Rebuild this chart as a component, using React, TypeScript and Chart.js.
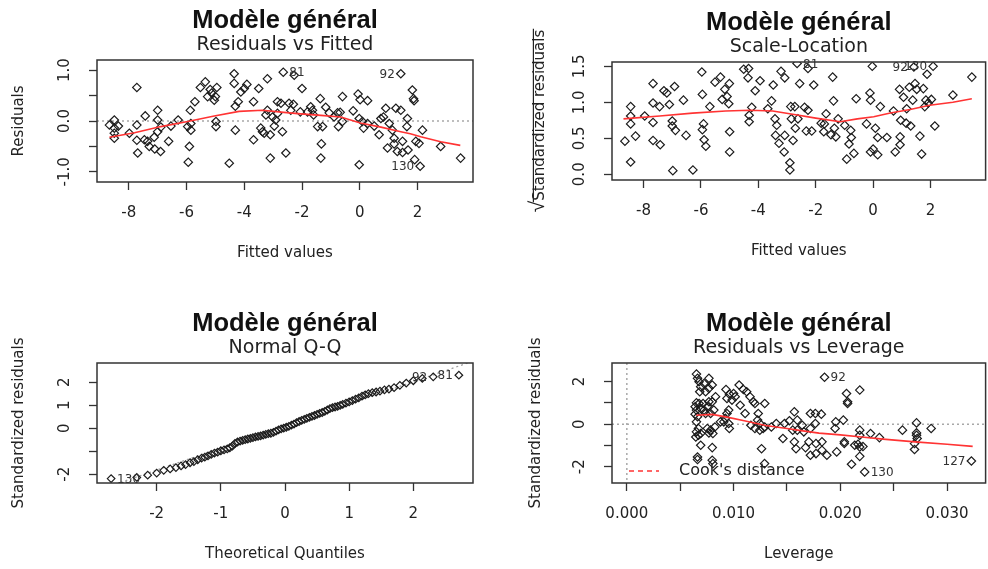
import React, { useEffect, useRef } from 'react';
import { Chart, registerables } from 'chart.js';

Chart.register(...registerables);

type Pt = [number, number];
type Lab = [number, number, string, 'left' | 'right'];

const FONT = '"DejaVu Sans", sans-serif';
const TITLE_FONT = '"Liberation Sans", Arial, sans-serif';
const TEXT = '#222';
const MAIN_TITLE = 'Modèle général';

// ---------- Residuals vs Fitted ----------
const RVF_POINTS: Pt[] = [
  [-8.67,-0.08],[-8.5,0.02],[-8.5,-0.14],[-8.5,-0.34],[-8.36,-0.1],[-8.5,-0.24],[-7.98,-0.24],[-7.72,0.66],[-7.72,-0.08],[-7.72,-0.38],
  [-7.69,-0.63],[-7.43,0.1],[-7.46,-0.37],[-7.35,-0.4],[-7.29,-0.5],[-7.12,-0.32],[-7.1,-0.55],[-7.0,0.21],[-7.0,0.02],[-7.0,-0.21],
  [-6.9,-0.6],[-6.89,-0.12],[-6.62,-0.4],[-6.54,-0.1],[-6.29,0.02],[-5.96,-0.11],[-5.94,-0.81],[-5.9,-0.5],[-5.87,0.21],[-5.85,-0.18],
  [-5.85,-0.05],[-5.71,0.38],[-5.52,0.66],[-5.35,0.77],[-5.27,0.48],[-5.18,0.62],[-5.13,0.55],[-5.04,0.41],[-5.0,0.48],[-4.95,0.66],
  [-4.98,-0.01],[-4.98,-0.11],[-4.52,-0.83],[-4.35,0.93],[-4.35,0.74],[-4.31,0.29],[-4.31,-0.18],[-4.21,0.38],[-4.12,0.57],[-4.0,0.64],
  [-3.91,0.72],[-3.68,-0.37],[-3.68,0.38],[-3.5,0.64],[-3.43,-0.14],[-3.37,-0.21],[-3.31,-0.24],[-3.25,0.12],[-3.2,0.83],[-3.2,0.21],
  [-3.1,-0.27],[-3.1,-0.73],[-3.02,0.08],[-2.96,-0.1],[-2.91,0.02],[-2.85,0.15],[-2.85,0.38],[-2.73,0.35],[-2.68,-0.21],[-2.65,0.96],
  [-2.56,-0.63],[-2.45,0.35],[-2.39,0.21],[-2.27,0.9],[-2.3,0.33],[-2.06,0.18],[-2.0,0.64],[-1.81,0.18],[-1.7,0.28],[-1.64,0.21],
  [-1.6,0.12],[-1.46,-0.11],[-1.37,0.44],[-1.35,-0.73],[-1.33,-0.45],[-1.29,-0.11],[-1.18,0.27],[-1.06,0.16],[-0.89,0.08],[-0.77,0.16],
  [-0.74,-0.11],[-0.68,0.17],[-0.6,0.48],[-0.6,-0.01],[-0.23,0.2],[-0.06,0.53],[-0.02,-0.86],[-0.02,0.05],[0.01,0.42],[0.09,-0.01],
  [0.13,-0.14],[0.27,0.4],[0.27,-0.05],[0.5,-0.1],[0.67,-0.27],[0.73,0.05],[0.82,0.08],[0.9,0.25],[0.96,-0.53],[1.02,-0.05],
  [1.13,-0.18],[1.19,-0.34],[1.19,-0.45],[1.25,0.25],[1.3,-0.6],[1.42,0.21],[1.42,0.93],[1.48,-0.4],[1.48,-0.62],[1.65,0.05],
  [1.63,-0.11],[1.67,-0.57],[1.82,0.61],[1.86,0.44],[1.88,0.4],[1.9,-0.76],[1.94,-0.4],[2.05,-0.44],[2.09,-0.89],[2.17,-0.18],
  [2.8,-0.5],[3.49,-0.73],
];
const RVF_SMOOTH: Pt[] = [
  [-8.67,-0.32],[-7.8,-0.23],[-6.89,-0.11],[-5.96,-0.01],[-5.04,0.1],[-4.18,0.19],[-3.37,0.21],[-2.63,0.17],[-2.04,0.14],
  [-1.35,0.11],[-0.66,0.08],[0.02,-0.04],[0.73,-0.12],[1.42,-0.21],[1.75,-0.25],[2.11,-0.31],[2.8,-0.41],[3.48,-0.48],
];
const RVF_LABELS: Lab[] = [[-2.65, 0.96, '81', 'right'], [1.42, 0.93, '92', 'left'], [2.09, -0.89, '130', 'left']];
const RVF_X_TICKS = [-8, -6, -4, -2, 0, 2];
const RVF_X_TICK_LABELS = ['-8', '-6', '-4', '-2', '0', '2'];
const RVF_Y_TICKS = [-1, -0.5, 0, 0.5, 1];
const RVF_Y_TICK_LABELS = ['-1.0', '', '0.0', '', '1.0'];

// ---------- Scale-Location ----------
const SL_POINTS: Pt[] = [
  [-8.65,0.46],[-8.45,0.94],[-8.45,0.81],[-8.45,0.7],[-8.45,0.17],[-8.28,0.53],[-7.96,0.81],[-7.67,1.26],[-7.67,0.99],[-7.67,0.72],
  [-7.67,0.47],[-7.44,0.94],[-7.42,0.41],[-7.29,1.16],[-7.19,1.13],[-7.1,0.97],[-7.0,0.74],[-7.0,0.67],[-6.98,0.05],[-6.92,1.22],
  [-6.89,0.61],[-6.61,1.03],[-6.52,0.54],[-6.28,0.06],[-5.97,1.42],[-5.95,1.11],[-5.95,0.62],[-5.91,0.7],[-5.89,0.48],[-5.83,0.39],
  [-5.69,0.94],[-5.51,1.28],[-5.32,1.35],[-5.26,1.04],[-5.17,1.18],[-5.09,1.08],[-5.01,1.26],[-5.03,0.98],[-5.0,0.59],[-5.0,0.31],
  [-4.51,1.46],[-4.34,1.47],[-4.36,1.34],[-4.32,0.82],[-4.32,0.73],[-4.11,1.16],[-3.94,1.3],[-4.23,0.93],[-3.67,0.91],[-3.54,1.02],
  [-3.48,1.24],[-3.42,0.77],[-3.36,0.68],[-3.4,0.54],[-3.28,0.43],[-3.21,1.43],[-3.08,1.34],[-3.08,0.54],[-3.1,0.31],[-2.9,0.16],
  [-2.9,0.06],[-2.87,0.94],[-2.85,0.77],[-2.79,0.47],[-2.73,0.94],[-2.71,0.64],[-2.65,1.54],[-2.62,0.77],[-2.56,1.26],[-2.39,0.93],
  [-2.33,0.6],[-2.27,0.89],[-2.27,1.47],[-2.14,0.6],[-2.07,1.24],[-1.81,0.71],[-1.72,0.59],[-1.7,0.7],[-1.64,0.84],[-1.47,0.55],
  [-1.41,1.35],[-1.38,1.02],[-1.35,0.64],[-1.3,0.52],[-1.22,0.77],[-0.99,0.68],[-0.92,0.21],[-0.84,0.42],[-0.78,0.61],[-0.76,0.51],
  [-0.67,0.29],[-0.59,1.05],[-0.23,0.7],[-0.11,1.13],[-0.03,1.5],[-0.09,1.03],[-0.09,0.31],[0.0,0.35],[0.08,0.64],[0.16,0.27],
  [0.16,0.51],[0.25,0.94],[0.48,0.51],[0.71,0.88],[0.77,0.31],[0.92,1.18],[0.94,0.52],[0.94,0.41],[0.96,0.75],[1.06,1.07],
  [1.15,0.71],[1.17,0.91],[1.26,1.21],[1.31,0.67],[1.38,1.03],[1.42,1.49],[1.46,1.26],[1.52,1.18],[1.63,0.53],[1.69,0.28],
  [1.75,1.19],[1.8,0.94],[1.84,1.03],[1.88,1.39],[1.92,0.99],[2.09,1.5],[2.03,1.04],[2.15,0.67],[2.78,1.1],[3.44,1.35],
];
const SL_SMOOTH: Pt[] = [
  [-8.7,0.77],[-7.44,0.81],[-6.29,0.85],[-5.14,0.88],[-4.29,0.89],[-3.5,0.88],[-2.75,0.83],[-2.0,0.78],[-1.15,0.73],
  [-0.55,0.77],[0.02,0.8],[0.6,0.85],[1.29,0.9],[1.97,0.96],[2.78,1.0],[3.44,1.05],
];
const SL_LABELS: Lab[] = [[-2.65, 1.54, '81', 'right'], [1.42, 1.49, '92', 'left'], [2.09, 1.5, '130', 'left']];
const SL_X_TICKS = [-8, -6, -4, -2, 0, 2];
const SL_X_TICK_LABELS = ['-8', '-6', '-4', '-2', '0', '2'];
const SL_Y_TICKS = [0, 0.5, 1, 1.5];
const SL_Y_TICK_LABELS = ['0.0', '0.5', '1.0', '1.5'];

// ---------- Normal Q-Q ----------
const QQ_POINTS: Pt[] = [
  [-2.71,-2.19],[-2.31,-2.14],[-2.14,-2.04],[-2.0,-1.95],[-1.89,-1.83],[-1.79,-1.77],[-1.7,-1.71],[-1.62,-1.64],[-1.55,-1.58],[-1.48,-1.5],
  [-1.42,-1.45],[-1.36,-1.37],[-1.3,-1.3],[-1.25,-1.26],[-1.2,-1.2],[-1.15,-1.14],[-1.1,-1.08],[-1.05,-1.04],[-1.0,-0.98],[-0.95,-0.94],
  [-0.9,-0.9],[-0.86,-0.85],[-0.82,-0.78],[-0.78,-0.66],[-0.74,-0.6],[-0.7,-0.56],[-0.66,-0.53],[-0.62,-0.5],[-0.58,-0.47],[-0.54,-0.44],
  [-0.5,-0.41],[-0.46,-0.38],[-0.42,-0.36],[-0.38,-0.33],[-0.34,-0.3],[-0.3,-0.27],[-0.26,-0.24],[-0.22,-0.22],[-0.18,-0.18],[-0.14,-0.13],
  [-0.1,-0.07],[-0.06,-0.03],[-0.02,0.0],[0.02,0.04],[0.06,0.08],[0.1,0.13],[0.14,0.18],[0.18,0.24],[0.22,0.29],[0.26,0.34],
  [0.3,0.38],[0.34,0.43],[0.38,0.47],[0.42,0.51],[0.46,0.55],[0.5,0.6],[0.54,0.64],[0.58,0.68],[0.62,0.73],[0.66,0.79],
  [0.7,0.85],[0.74,0.89],[0.78,0.92],[0.82,0.95],[0.86,0.99],[0.9,1.03],[0.95,1.09],[1.0,1.14],[1.05,1.2],[1.1,1.26],
  [1.15,1.32],[1.2,1.39],[1.25,1.45],[1.3,1.5],[1.36,1.54],[1.42,1.57],[1.48,1.61],[1.55,1.66],[1.62,1.7],[1.7,1.76],
  [1.79,1.86],[1.89,1.96],[2.0,2.06],[2.14,2.16],[2.31,2.23],[2.71,2.3],
];
const QQ_LINE: Pt[] = [[-2.93, -2.71], [2.93, 2.91]];
const QQ_LABELS: Lab[] = [[-2.71, -2.19, '130', 'right'], [2.31, 2.23, '92', 'left'], [2.71, 2.3, '81', 'left']];
const QQ_X_TICKS = [-2, -1, 0, 1, 2];
const QQ_X_TICK_LABELS = ['-2', '-1', '0', '1', '2'];
const QQ_Y_TICKS = [-2, -1, 0, 1, 2];
const QQ_Y_TICK_LABELS = ['-2', '', '0', '1', '2'];

// ---------- Residuals vs Leverage ----------
const RVL_POINTS: Pt[] = [
  [0.00652,2.35],[0.00662,2.15],[0.00677,1.99],[0.00692,1.76],[0.00723,1.91],[0.00769,2.15],[0.008,1.84],[0.00769,1.68],[0.00738,1.52],[0.00683,1.52],
  [0.00652,1.0],[0.0064,0.82],[0.00652,0.66],[0.0064,0.47],[0.00662,0.35],[0.00652,0.11],[0.00677,0.97],[0.00692,0.74],[0.00723,0.66],[0.00714,0.97],
  [0.00754,0.82],[0.00769,1.05],[0.008,1.05],[0.00815,0.66],[0.00785,0.5],[0.00738,0.5],[0.00671,-0.2],[0.00652,-0.36],[0.00671,-0.52],[0.00692,-0.44],
  [0.00646,-0.6],[0.00754,-0.2],[0.00785,-0.28],[0.00806,-0.44],[0.00825,-0.13],[0.00769,-0.41],[0.00692,-0.99],[0.008,-1.1],[0.00662,-1.54],[0.00662,-1.66],
  [0.008,-1.69],[0.00806,-1.85],[0.00831,1.29],[0.00929,1.63],[0.0096,1.41],[0.01,1.44],[0.00938,1.21],[0.00985,1.13],[0.01015,1.29],[0.00954,0.66],
  [0.00938,0.5],[0.00923,0.27],[0.00954,0.03],[0.0096,-0.2],[0.00877,0.11],[0.00908,0.11],[0.01052,1.84],[0.01092,1.63],[0.01123,1.52],[0.01154,1.29],
  [0.01185,1.05],[0.012,0.97],[0.01062,0.89],[0.01108,0.5],[0.01162,-0.05],[0.012,-0.2],[0.01231,0.5],[0.01225,0.19],[0.01246,-0.28],[0.01246,0.03],
  [0.01277,-0.2],[0.01292,0.97],[0.01262,-1.15],[0.0129,-1.85],[0.01292,-0.13],[0.01354,-0.13],[0.014,0.03],[0.01462,-0.67],[0.01477,0.03],[0.01523,0.16],
  [0.01569,0.58],[0.01569,-0.83],[0.01585,-1.15],[0.01554,-0.28],[0.01597,0.19],[0.01597,-0.28],[0.01643,-0.05],[0.01658,-0.36],[0.0172,0.5],[0.01766,0.5],
  [0.01822,0.47],[0.01766,0.03],[0.0172,-0.2],[0.01705,-0.83],[0.01674,-1.1],[0.0172,-1.46],[0.01772,-1.38],[0.01772,-0.91],[0.01828,-0.83],[0.01828,-1.22],
  [0.01874,-1.46],[0.01852,2.2],[0.01957,0.11],[0.01951,-0.2],[0.01966,-1.3],[0.02028,0.19],[0.02037,-0.83],[0.02037,-0.91],[0.02058,1.44],[0.02068,1.05],
  [0.02068,0.97],[0.02182,1.6],[0.02105,-1.88],[0.02182,-0.28],[0.02182,-0.52],[0.02135,-0.99],[0.02166,-0.94],[0.02182,-1.07],[0.02182,-1.51],[0.02212,-1.05],
  [0.02228,-2.24],[0.02283,-0.44],[0.02366,-0.63],[0.02582,-0.28],[0.02714,0.06],[0.02714,-0.41],[0.02714,-0.52],[0.0272,-0.67],[0.02695,-0.91],[0.02695,-1.19],
  [0.02851,-0.2],[0.03228,-1.73],
];
const RVL_SMOOTH: Pt[] = [
  [0.0065,0.42],[0.008,0.46],[0.0095,0.32],[0.011,0.16],[0.013,-0.06],[0.015,-0.2],[0.016,-0.28],[0.018,-0.42],
  [0.02,-0.5],[0.022,-0.6],[0.024,-0.7],[0.027,-0.83],[0.03,-0.94],[0.0324,-1.04],
];
const RVL_LABELS: Lab[] = [[0.01852, 2.2, '92', 'right'], [0.02228, -2.24, '130', 'right'], [0.03228, -1.73, '127', 'left']];
const RVL_X_TICKS = [0, 0.005, 0.01, 0.015, 0.02, 0.025, 0.03];
const RVL_X_TICK_LABELS = ['0.000', '', '0.010', '', '0.020', '', '0.030'];
const RVL_Y_TICKS = [-2, -1, 0, 1, 2];
const RVL_Y_TICK_LABELS = ['-2', '', '0', '', '2'];
const COOK_LEGEND = "Cook's distance";

interface PanelSpec {
  x: number; y: number; w: number; h: number;
  padLeft: number; padRight: number; titleTop: number;
  subtitle: string; xTitle: string; yTitle: string; ySqrt?: boolean; yTitleOffset: number;
  xMin: number; xMax: number; yMin: number; yMax: number;
  xTicks: number[]; xTickLabels: string[]; yTicks: number[]; yTickLabels: string[];
  points: Pt[]; pointRadius: number; smooth?: Pt[]; refLine?: Pt[];
  hZero?: boolean; vZero?: boolean; labels: Lab[]; cook?: boolean;
}

const PANELS: PanelSpec[] = [
  {
    x: 0, y: 0, w: 494, h: 266, padLeft: 89, padRight: 21, titleTop: 8,
    subtitle: 'Residuals vs Fitted', xTitle: 'Fitted values', yTitle: 'Residuals', yTitleOffset: 77.5,
    xMin: -9.1, xMax: 3.92, yMin: -1.2, yMax: 1.2,
    xTicks: RVF_X_TICKS, xTickLabels: RVF_X_TICK_LABELS, yTicks: RVF_Y_TICKS, yTickLabels: RVF_Y_TICK_LABELS,
    points: RVF_POINTS, pointRadius: 4.2, smooth: RVF_SMOOTH, hZero: true, labels: RVF_LABELS,
  },
  {
    x: 494, y: 0, w: 497, h: 264, padLeft: 110, padRight: 0, titleTop: 10,
    subtitle: 'Scale-Location', xTitle: 'Fitted values', yTitle: 'Standardized residuals', ySqrt: true, yTitleOffset: 73.5,
    xMin: -9.1, xMax: 3.92, yMin: -0.08, yMax: 1.56,
    xTicks: SL_X_TICKS, xTickLabels: SL_X_TICK_LABELS, yTicks: SL_Y_TICKS, yTickLabels: SL_Y_TICK_LABELS,
    points: SL_POINTS, pointRadius: 4.2, smooth: SL_SMOOTH, labels: SL_LABELS,
  },
  {
    x: 0, y: 300, w: 494, h: 267, padLeft: 89, padRight: 21, titleTop: 11,
    subtitle: 'Normal Q-Q', xTitle: 'Theoretical Quantiles', yTitle: 'Standardized residuals', yTitleOffset: 78,
    xMin: -2.93, xMax: 2.93, yMin: -2.38, yMax: 2.83,
    xTicks: QQ_X_TICKS, xTickLabels: QQ_X_TICK_LABELS, yTicks: QQ_Y_TICKS, yTickLabels: QQ_Y_TICK_LABELS,
    points: QQ_POINTS, pointRadius: 3.8, refLine: QQ_LINE, labels: QQ_LABELS,
  },
  {
    x: 494, y: 300, w: 497, h: 267, padLeft: 110, padRight: 0, titleTop: 11,
    subtitle: 'Residuals vs Leverage', xTitle: 'Leverage', yTitle: 'Standardized residuals', yTitleOffset: 75.5,
    xMin: -0.00139, xMax: 0.03361, yMin: -2.76, yMax: 2.87,
    xTicks: RVL_X_TICKS, xTickLabels: RVL_X_TICK_LABELS, yTicks: RVL_Y_TICKS, yTickLabels: RVL_Y_TICK_LABELS,
    points: RVL_POINTS, pointRadius: 4.2, smooth: RVL_SMOOTH, hZero: true, vZero: true, labels: RVL_LABELS, cook: true,
  },
];

const toXY = (pts: Pt[]) => pts.map(([x, y]) => ({ x, y }));

function makePlugin(s: PanelSpec) {
  return {
    id: 'rDiag',
    beforeDatasetsDraw(chart: any) {
      const { ctx, chartArea: a, scales } = chart;
      ctx.save();
      ctx.beginPath();
      ctx.rect(a.left, a.top, a.right - a.left, a.bottom - a.top);
      ctx.clip();
      ctx.strokeStyle = '#a8a8a8';
      ctx.lineWidth = 1.5;
      ctx.setLineDash([2, 3]);
      if (s.hZero) {
        const yy = scales.y.getPixelForValue(0);
        ctx.beginPath(); ctx.moveTo(a.left, yy); ctx.lineTo(a.right, yy); ctx.stroke();
      }
      if (s.vZero) {
        const xx = scales.x.getPixelForValue(0);
        ctx.beginPath(); ctx.moveTo(xx, a.top); ctx.lineTo(xx, a.bottom); ctx.stroke();
      }
      ctx.restore();
    },
    afterDraw(chart: any) {
      const { ctx, chartArea: a, scales } = chart;
      const sx = scales.x, sy = scales.y;
      ctx.save();
      // box around the plot region
      ctx.strokeStyle = '#333';
      ctx.lineWidth = 1.5;
      ctx.strokeRect(a.left, a.top, a.right - a.left, a.bottom - a.top);

      // point id labels
      ctx.fillStyle = '#333';
      ctx.font = `12px ${FONT}`;
      ctx.textBaseline = 'middle';
      s.labels.forEach(([lx, ly, txt, side]) => {
        const px = sx.getPixelForValue(lx), py = sy.getPixelForValue(ly);
        ctx.textAlign = side === 'right' ? 'left' : 'right';
        ctx.fillText(txt, px + (side === 'right' ? 6 : -6), py + 1);
      });

      // Cook's distance legend
      if (s.cook) {
        const ly = a.bottom - 12;
        ctx.strokeStyle = '#ff3333';
        ctx.lineWidth = 1.6;
        ctx.setLineDash([5, 4]);
        ctx.beginPath(); ctx.moveTo(a.left + 17, ly); ctx.lineTo(a.left + 47, ly); ctx.stroke();
        ctx.setLineDash([]);
        ctx.fillStyle = TEXT;
        ctx.font = `16px ${FONT}`;
        ctx.textAlign = 'left';
        ctx.fillText(COOK_LEGEND, a.left + 67, ly);
      }

      // y tick labels (R style, rotated)
      ctx.fillStyle = TEXT;
      ctx.font = `15px ${FONT}`;
      ctx.textAlign = 'center';
      ctx.textBaseline = 'middle';
      sy.ticks.forEach((t: any, i: number) => {
        const lab = s.yTickLabels[i];
        if (!lab) return;
        ctx.save();
        ctx.translate(a.left - 32, sy.getPixelForValue(t.value));
        ctx.rotate(-Math.PI / 2);
        ctx.fillText(lab, 0, 0);
        ctx.restore();
      });

      // y axis title
      const cx = a.left - s.yTitleOffset;
      const cy = (a.top + a.bottom) / 2;
      ctx.save();
      ctx.translate(cx, cy);
      ctx.rotate(-Math.PI / 2);
      if (s.ySqrt) {
        ctx.font = `15px ${FONT}`;
        const bw = ctx.measureText(s.yTitle).width;
        ctx.font = `21px "Liberation Sans", ${FONT}`;
        const m = ctx.measureText('√');
        const rw = m.width;
        const asc = m.actualBoundingBoxAscent || 15;
        const total = rw + bw;
        const base = 5.5;
        ctx.textAlign = 'left';
        ctx.textBaseline = 'alphabetic';
        ctx.fillText('√', -total / 2, base);
        ctx.font = `15px ${FONT}`;
        ctx.fillText(s.yTitle, -total / 2 + rw, base);
        ctx.strokeStyle = TEXT;
        ctx.lineWidth = 1.2;
        ctx.beginPath();
        ctx.moveTo(-total / 2 + rw - 1.5, base - asc + 0.6);
        ctx.lineTo(total / 2 + 1, base - asc + 0.6);
        ctx.stroke();
      } else {
        ctx.font = `15px ${FONT}`;
        ctx.textAlign = 'center';
        ctx.textBaseline = 'middle';
        ctx.fillText(s.yTitle, 0, 0);
      }
      ctx.restore();
      ctx.restore();
    },
  };
}

function buildConfig(s: PanelSpec): any {
  const datasets: any[] = [];
  if (s.refLine) {
    datasets.push({
      type: 'line', data: toXY(s.refLine), borderColor: '#a0a0a0', borderWidth: 1.3,
      borderDash: [2, 3], pointRadius: 0, showLine: true, order: 3,
    });
  }
  datasets.push({
    type: 'scatter', data: toXY(s.points), pointStyle: 'rectRot',
    pointRadius: s.pointRadius, pointHoverRadius: s.pointRadius,
    borderColor: '#1c1c1c', backgroundColor: 'rgba(0,0,0,0)', borderWidth: 1.2, order: 2,
  });
  if (s.smooth) {
    datasets.push({
      type: 'line', data: toXY(s.smooth), borderColor: '#ff3333', borderWidth: 1.6,
      pointRadius: 0, showLine: true, tension: 0, order: 1,
    });
  }
  const grid = {
    display: true, drawOnChartArea: false, drawTicks: true, tickLength: 8,
    tickColor: '#333', tickWidth: 1.3, color: '#333',
  };
  return {
    type: 'scatter',
    data: { datasets },
    options: {
      animation: false,
      responsive: false,
      events: [],
      layout: { padding: { left: s.padLeft, right: s.padRight, top: 0, bottom: 0 } },
      plugins: {
        legend: { display: false },
        tooltip: { enabled: false },
        title: {
          display: true, text: MAIN_TITLE, fullSize: false, color: '#111',
          font: { family: TITLE_FONT, size: 25.5, weight: 'bold', lineHeight: 1 },
          padding: { top: s.titleTop, bottom: 0 },
        },
        subtitle: {
          display: true, text: s.subtitle, fullSize: false, color: TEXT,
          font: { family: FONT, size: 19, lineHeight: 1 },
          padding: { top: 2, bottom: 5.5 },
        },
      },
      scales: {
        x: {
          type: 'linear', position: 'bottom', min: s.xMin, max: s.xMax,
          afterBuildTicks: (sc: any) => { sc.ticks = s.xTicks.map((v) => ({ value: v })); },
          afterFit: (sc: any) => { sc.paddingLeft = 0; sc.paddingRight = 0; },
          ticks: {
            autoSkip: false, maxRotation: 0, minRotation: 0, padding: 14, color: TEXT,
            font: { family: FONT, size: 15 },
            callback: (_v: any, i: number) => s.xTickLabels[i],
          },
          grid, border: { display: false },
          title: {
            display: true, text: s.xTitle, color: TEXT,
            font: { family: FONT, size: 15 }, padding: { top: 8, bottom: 4 },
          },
        },
        y: {
          type: 'linear', position: 'left', min: s.yMin, max: s.yMax,
          afterBuildTicks: (sc: any) => { sc.ticks = s.yTicks.map((v) => ({ value: v })); },
          ticks: { display: false },
          grid, border: { display: false },
        },
      },
    },
    plugins: [makePlugin(s)],
  };
}

function Panel({ spec }: { spec: PanelSpec }) {
  const ref = useRef<HTMLCanvasElement>(null);
  useEffect(() => {
    if (!ref.current) return;
    const chart = new Chart(ref.current, buildConfig(spec));
    return () => chart.destroy();
  }, [spec]);
  return (
    <canvas
      ref={ref}
      width={spec.w}
      height={spec.h}
      style={{ position: 'absolute', left: spec.x, top: spec.y, width: spec.w, height: spec.h }}
    />
  );
}

export default function App() {
  return (
    <div style={{ position: 'absolute', left: 0, top: 0, width: 988, height: 569, overflow: 'hidden', background: '#fff' }}>
      {PANELS.map((p, i) => <Panel key={i} spec={p} />)}
    </div>
  );
}
